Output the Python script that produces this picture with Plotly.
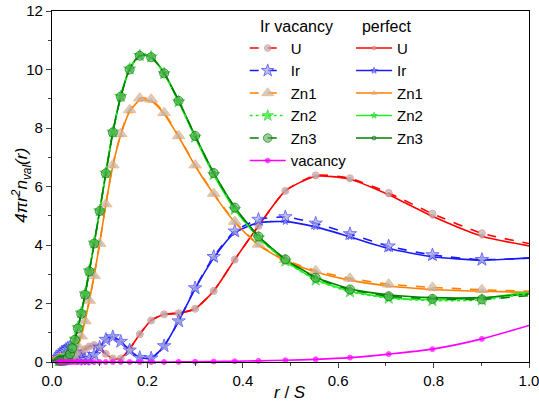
import plotly.graph_objects as go

# radial grid (r / S)
R = [0.0, 0.0141, 0.0160, 0.0180, 0.0204, 0.0230, 0.0260, 0.0294, 0.0333, 0.0376,
     0.0425, 0.0480, 0.0542, 0.0613, 0.0692, 0.0782, 0.0884, 0.0999, 0.1128, 0.1275,
     0.1441, 0.1628, 0.1840, 0.2079, 0.2350, 0.2655, 0.3000, 0.3390, 0.3831, 0.4329,
     0.4892, 0.5528, 0.6246, 0.7058, 0.7976, 0.9013, 1.0]

# Ir vacancy
U_vac = [0.05, 0.05, 0.05, 0.05, 0.05, 0.05, 0.05, 0.05, 0.05, 0.06,
         0.08, 0.12, 0.20, 0.32, 0.44, 0.53, 0.58, 0.50, 0.28, 0.12,
         0.12, 0.45, 0.95, 1.42, 1.63, 1.67, 1.82, 2.43, 3.50, 4.65,
         5.85, 6.38, 6.28, 5.78, 5.07, 4.40, 4.05]
Ir_vac = [0.05, 0.15, 0.20, 0.25, 0.30, 0.33, 0.38, 0.43, 0.48, 0.50,
          0.45, 0.33, 0.20, 0.10, 0.08, 0.12, 0.25, 0.50, 0.77, 0.86,
          0.70, 0.40, 0.15, 0.13, 0.55, 1.40, 2.53, 3.60, 4.47, 4.87,
          4.96, 4.74, 4.38, 3.96, 3.66, 3.50, 3.55]
Zn1_vac = [0.15, 0.13, 0.12, 0.12, 0.12, 0.12, 0.12, 0.12, 0.13, 0.16,
           0.24, 0.36, 0.55, 0.88, 1.40, 2.10, 2.95, 4.05, 5.40, 6.73,
           7.80, 8.62, 9.02, 8.98, 8.52, 7.73, 6.73, 5.76, 4.80, 4.02,
           3.49, 3.12, 2.86, 2.66, 2.55, 2.47, 2.42]
Zn2_vac = [0.05, 0.05, 0.05, 0.05, 0.05, 0.05, 0.06, 0.08, 0.15, 0.28,
           0.49, 0.78, 1.18, 1.68, 2.33, 3.12, 4.07, 5.17, 6.46, 7.86,
           9.08, 10.02, 10.48, 10.43, 9.86, 8.90, 7.69, 6.41, 5.22, 4.25,
           3.45, 2.80, 2.40, 2.18, 2.10, 2.12, 2.35]
Zn3_vac = [0.05, 0.05, 0.05, 0.05, 0.05, 0.05, 0.06, 0.08, 0.14, 0.27,
           0.47, 0.76, 1.15, 1.65, 2.30, 3.10, 4.05, 5.16, 6.45, 7.85,
           9.07, 10.00, 10.47, 10.42, 9.87, 8.93, 7.73, 6.46, 5.28, 4.29,
           3.51, 2.88, 2.48, 2.25, 2.16, 2.14, 2.27]
Vac = [0.0, 0.0, 0.0, 0.0, 0.0, 0.0, 0.0, 0.0, 0.0, 0.0,
       0.0, 0.0, 0.0, 0.0, 0.0, 0.0, 0.0, 0.0, 0.0, 0.0,
       0.0, 0.0, 0.0, 0.0, 0.0, 0.005, 0.01, 0.015, 0.025, 0.04,
       0.06, 0.09, 0.15, 0.27, 0.44, 0.79, 1.25]

# perfect
U_perf = [0.05, 0.05, 0.05, 0.05, 0.05, 0.05, 0.05, 0.05, 0.05, 0.06,
          0.08, 0.12, 0.20, 0.32, 0.44, 0.53, 0.58, 0.50, 0.28, 0.12,
          0.12, 0.45, 0.95, 1.42, 1.63, 1.67, 1.82, 2.43, 3.50, 4.65,
          5.85, 6.35, 6.25, 5.72, 4.98, 4.30, 3.97]
Ir_perf = [0.05, 0.15, 0.20, 0.25, 0.30, 0.33, 0.38, 0.43, 0.48, 0.50,
           0.45, 0.33, 0.20, 0.10, 0.08, 0.12, 0.25, 0.50, 0.77, 0.86,
           0.70, 0.40, 0.15, 0.13, 0.55, 1.40, 2.50, 3.55, 4.42, 4.76,
           4.80, 4.62, 4.28, 3.88, 3.60, 3.48, 3.56]
Zn1_perf = [0.15, 0.13, 0.12, 0.12, 0.12, 0.12, 0.12, 0.12, 0.13, 0.16,
            0.24, 0.36, 0.55, 0.88, 1.40, 2.10, 2.95, 4.05, 5.38, 6.70,
            7.76, 8.56, 8.95, 8.92, 8.48, 7.70, 6.71, 5.74, 4.78, 4.00,
            3.46, 3.08, 2.80, 2.60, 2.48, 2.42, 2.38]
Zn2_perf = [0.05, 0.05, 0.05, 0.05, 0.05, 0.05, 0.06, 0.08, 0.15, 0.28,
            0.49, 0.78, 1.18, 1.68, 2.33, 3.12, 4.07, 5.17, 6.46, 7.86,
            9.08, 10.02, 10.48, 10.43, 9.86, 8.90, 7.69, 6.41, 5.22, 4.26,
            3.46, 2.82, 2.42, 2.20, 2.13, 2.18, 2.40]
Zn3_perf = [0.05, 0.05, 0.05, 0.05, 0.05, 0.05, 0.06, 0.08, 0.14, 0.27,
            0.47, 0.76, 1.15, 1.65, 2.30, 3.10, 4.05, 5.16, 6.45, 7.85,
            9.07, 10.02, 10.50, 10.44, 9.88, 8.94, 7.74, 6.47, 5.29, 4.30,
            3.52, 2.90, 2.50, 2.30, 2.20, 2.20, 2.33]

X_TICKS = [0.0, 0.2, 0.4, 0.6, 0.8, 1.0]
X_TICKTEXT = ["0.0", "0.2", "0.4", "0.6", "0.8", "1.0"]
Y_TICKS = [0, 2, 4, 6, 8, 10, 12]

FONT = "Liberation Sans, Arial, sans-serif"

fig = go.Figure()


def add(name, y, color, dash, symbol, msize, mfill, mline, legend, width=1.6):
    sizes = [msize] * len(R)
    sizes[0] = 0
    sizes[-1] = 0
    fig.add_trace(go.Scatter(
        x=R, y=y, mode="lines+markers", name=name, legend=legend,
        line=dict(color=color, width=width, dash=dash, shape="spline", smoothing=0.6),
        marker=dict(symbol=symbol, size=sizes, color=mfill, line=dict(color=mline, width=1)),
        cliponaxis=False,
    ))


RED, BLUE, ORANGE, LIME, DGREEN, MAG = "#ff0000", "#1a1aff", "#ff8000", "#22ee22", "#008000", "#ff00ff"

# perfect (solid, small markers)
add("U", U_perf, RED, "solid", "circle", 4, "#b4b4b4", "#e07070", "legend2")
add("Ir", Ir_perf, BLUE, "solid", "star", 5, "#a8acd8", "#3030ff", "legend2")
add("Zn1", Zn1_perf, ORANGE, "solid", "triangle-up", 5, "#c0b4a8", "#f0a060", "legend2")
add("Zn2", Zn2_perf, LIME, "solid", "star", 5, "#22ee22", "#22cc22", "legend2")
add("Zn3", Zn3_perf, DGREEN, "solid", "circle", 4, "#5aa85a", "#006400", "legend2")

# Ir vacancy (dashed, large markers)
add("U", U_vac, RED, "dash", "circle", 7, "#b4b4b4", "#e08080", "legend")
add("Ir", Ir_vac, BLUE, "dash", "star", 10, "#a8acd8", "#3030ff", "legend")
add("Zn1", Zn1_vac, ORANGE, "dash", "triangle-up", 11, "#c0b8b0", "#f0a060", "legend")
add("Zn2", Zn2_vac, LIME, "dot", "star", 9, "#22ee22", "#22cc22", "legend")
add("Zn3", Zn3_vac, DGREEN, "dash", "circle", 9, "rgba(90,170,90,0.85)", "#007000", "legend")
add("vacancy", Vac, MAG, "solid", "circle", 5, MAG, MAG, "legend")

legend_common = dict(
    xanchor="left", yanchor="top", bgcolor="rgba(0,0,0,0)",
    font=dict(family=FONT, size=15, color="black"), tracegroupgap=0, itemwidth=36,
)
fig.update_layout(
    width=539, height=401,
    margin=dict(l=52, r=10, t=11, b=39, autoexpand=False),
    paper_bgcolor="white", plot_bgcolor="white",
    font=dict(family=FONT, size=15, color="black"),
    legend=dict(title=dict(text="   Ir vacancy", font=dict(family=FONT, size=16)),
                x=0.404, y=1.0, **legend_common),
    legend2=dict(title=dict(text="  perfect", font=dict(family=FONT, size=16)),
                 x=0.627, y=1.0, **legend_common),
    showlegend=True,
)
fig.update_xaxes(
    range=[0, 1], tickvals=X_TICKS, ticktext=X_TICKTEXT, ticks="outside", ticklen=5,
    tickwidth=1, showline=True, linecolor="black", linewidth=1.2, mirror=True,
    showgrid=False, zeroline=False, tickfont=dict(size=15), automargin=False,
    ticklabeloverflow="allow",
    minor=dict(ticks="outside", ticklen=3, dtick=0.1, tick0=0, showgrid=False),
)
fig.update_yaxes(
    range=[0, 12], tickvals=Y_TICKS, ticks="outside", ticklen=5,
    tickwidth=1, showline=True, linecolor="black", linewidth=1.2, mirror=True,
    showgrid=False, zeroline=False, tickfont=dict(size=15), automargin=False,
    ticklabeloverflow="allow",
    minor=dict(ticks="outside", ticklen=3, dtick=1, tick0=0, showgrid=False),
)
fig.add_annotation(text="<i>r</i> / <i>S</i>", xref="paper", yref="paper",
                   x=0.499, y=-0.087, xanchor="center", yanchor="middle",
                   showarrow=False, font=dict(family=FONT, size=17))
fig.add_annotation(text="<i>4πr<sup>2</sup>n<sub>val</sub>(r)</i>", xref="paper", yref="paper",
                   x=-0.063, y=0.505, xanchor="center", yanchor="middle", textangle=-90,
                   showarrow=False, font=dict(family=FONT, size=17))

fig.write_html(
    "out.html",
    config={"responsive": False, "displayModeBar": False},
    post_script="document.body.style.margin='0';document.body.style.padding='0';"
                "document.body.style.overflow='hidden';",
)
